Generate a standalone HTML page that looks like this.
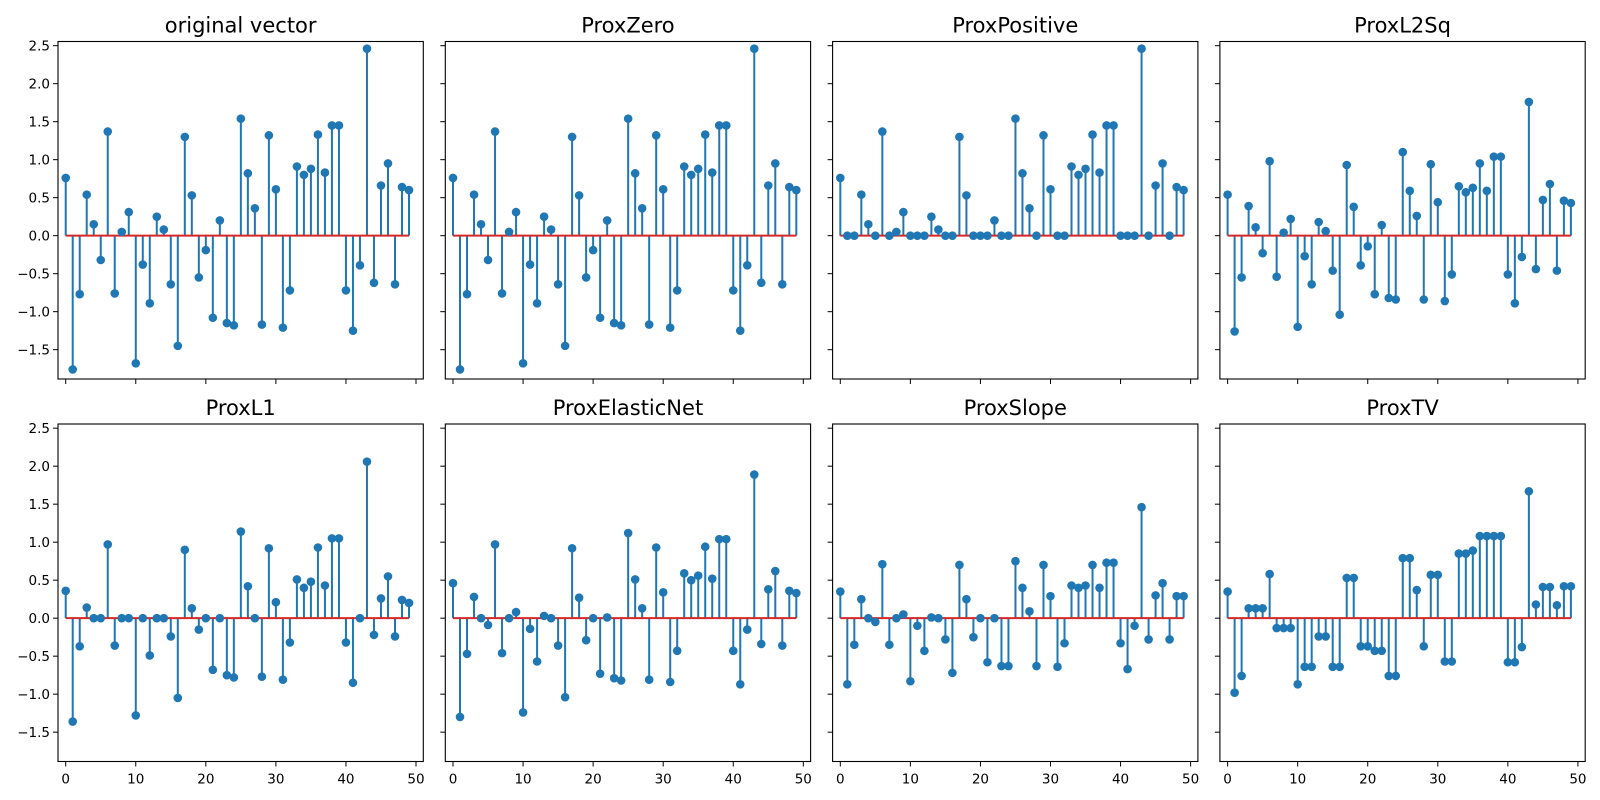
<!DOCTYPE html>
<html><head><meta charset="utf-8"><style>
html,body{margin:0;padding:0;background:#fff;}
svg{display:block;font-family:"DejaVu Sans","Liberation Sans",sans-serif;}
</style></head><body>
<svg id="fig" width="1600" height="800" viewBox="0 0 1600 800"></svg>
<script>
const titles = ["original vector","ProxZero","ProxPositive","ProxL2Sq","ProxL1","ProxElasticNet","ProxSlope","ProxTV"];
const original = [0.76,-1.76,-0.77,0.54,0.15,-0.32,1.37,-0.76,0.05,0.31,-1.68,-0.38,-0.89,0.25,0.08,-0.64,-1.45,1.30,0.53,-0.55,-0.19,-1.08,0.20,-1.15,-1.18,1.54,0.82,0.36,-1.17,1.32,0.61,-1.21,-0.72,0.91,0.80,0.88,1.33,0.83,1.45,1.45,-0.72,-1.25,-0.39,2.46,-0.62,0.66,0.95,-0.64,0.64,0.60];
const proxZero = [0.76,-1.76,-0.77,0.54,0.15,-0.32,1.37,-0.76,0.05,0.31,-1.68,-0.38,-0.89,0.25,0.08,-0.64,-1.45,1.30,0.53,-0.55,-0.19,-1.08,0.20,-1.15,-1.18,1.54,0.82,0.36,-1.17,1.32,0.61,-1.21,-0.72,0.91,0.80,0.88,1.33,0.83,1.45,1.45,-0.72,-1.25,-0.39,2.46,-0.62,0.66,0.95,-0.64,0.64,0.60];
const proxPositive = [0.76,0,0,0.54,0.15,0,1.37,0,0.05,0.31,0,0,0,0.25,0.08,0,0,1.30,0.53,0,0,0,0.20,0,0,1.54,0.82,0.36,0,1.32,0.61,0,0,0.91,0.80,0.88,1.33,0.83,1.45,1.45,0,0,0,2.46,0,0.66,0.95,0,0.64,0.60];
const proxL2Sq = [0.54,-1.26,-0.55,0.39,0.11,-0.23,0.98,-0.54,0.04,0.22,-1.20,-0.27,-0.64,0.18,0.06,-0.46,-1.04,0.93,0.38,-0.39,-0.14,-0.77,0.14,-0.82,-0.84,1.10,0.59,0.26,-0.84,0.94,0.44,-0.86,-0.51,0.65,0.57,0.63,0.95,0.59,1.04,1.04,-0.51,-0.89,-0.28,1.76,-0.44,0.47,0.68,-0.46,0.46,0.43];
const proxL1 = [0.36,-1.36,-0.37,0.14,0,0,0.97,-0.36,0,0,-1.28,0,-0.49,0,0,-0.24,-1.05,0.90,0.13,-0.15,0,-0.68,0,-0.75,-0.78,1.14,0.42,0,-0.77,0.92,0.21,-0.81,-0.32,0.51,0.40,0.48,0.93,0.43,1.05,1.05,-0.32,-0.85,0,2.06,-0.22,0.26,0.55,-0.24,0.24,0.20];
const proxElasticNet = [0.46,-1.30,-0.47,0.28,0,-0.09,0.97,-0.46,0,0.08,-1.24,-0.14,-0.57,0.03,0,-0.36,-1.04,0.92,0.27,-0.29,0,-0.73,0.01,-0.79,-0.82,1.12,0.51,0.13,-0.81,0.93,0.34,-0.84,-0.43,0.59,0.50,0.56,0.94,0.52,1.04,1.04,-0.43,-0.87,-0.15,1.89,-0.34,0.38,0.62,-0.36,0.36,0.33];
const proxSlope = [0.35,-0.87,-0.35,0.25,0,-0.05,0.71,-0.35,0,0.05,-0.83,-0.10,-0.43,0.01,0,-0.28,-0.72,0.70,0.25,-0.25,0,-0.58,0,-0.63,-0.63,0.75,0.40,0.09,-0.63,0.70,0.29,-0.64,-0.33,0.43,0.40,0.43,0.70,0.40,0.73,0.73,-0.33,-0.67,-0.10,1.46,-0.28,0.30,0.46,-0.28,0.29,0.29];
const proxTV = [0.35,-0.98,-0.76,0.13,0.13,0.13,0.58,-0.13,-0.13,-0.13,-0.87,-0.64,-0.64,-0.24,-0.24,-0.64,-0.64,0.53,0.53,-0.37,-0.37,-0.43,-0.43,-0.76,-0.76,0.79,0.79,0.37,-0.37,0.57,0.57,-0.57,-0.57,0.85,0.85,0.89,1.08,1.08,1.08,1.08,-0.58,-0.58,-0.38,1.67,0.18,0.41,0.41,0.17,0.42,0.42];
const yTicks = [-1.5,-1.0,-0.5,0.0,0.5,1.0,1.5,2.0,2.5];
const xTicks = [0,10,20,30,40,50];

const series = [original,proxZero,proxPositive,proxL2Sq,proxL1,proxElasticNet,proxSlope,proxTV];
const NS = "http://www.w3.org/2000/svg";
const fig = document.getElementById('fig');
const colLeft = [58,445.3,832.6,1219.9], W = 365.3;
const rowTop = [41.5,424], H = 337.5;
const XMIN = -1.1, XMAX = 51.04, YMIN = -1.886, YMAX = 2.555;
function mk(tag, attrs, parent){const e=document.createElementNS(NS,tag);for(const k in attrs)e.setAttribute(k,attrs[k]);parent.appendChild(e);return e;}

series.forEach((vals, k) => {
  const r = Math.floor(k/4), c = k%4;
  const L = colLeft[c], T = rowTop[r];
  const sx = v => L + (v - XMIN) / (XMAX - XMIN) * W;
  const sy = v => T + (YMAX - v) / (YMAX - YMIN) * H;
  const g = mk('g', {}, fig);
  
  
  const t = mk('text', {x: L + W/2, y: T - 9, 'text-anchor':'middle', 'font-size':'21', fill:'#000'}, g);
  t.textContent = titles[k];
  
  
  // stems
  vals.forEach((v, i) => {
    const ln = mk('line', {x1: sx(i), x2: sx(i), y1: sy(0), y2: sy(v), stroke:'#1f77b4', 'stroke-width':'2'}, g);
    
    
  });
  const base = mk('line', {x1: sx(0), x2: sx(vals.length-1), y1: sy(0), y2: sy(0), stroke:'#d62728', 'stroke-width':'2'}, g);
  
  
  vals.forEach((v, i) => {
    const m = mk('circle', {cx: sx(i), cy: sy(v), r: 4.3, fill:'#1f77b4'}, g);
    
    
  });
  const frame = mk('rect', {x: L, y: T, width: W, height: H, fill:'none', stroke:'#000', 'stroke-width':'1.1'}, g);
  
  
  yTicks.forEach(v => {
    const y = sy(v);
    const tk = mk('line', {x1: L-5, x2: L, y1: y, y2: y, stroke:'#000', 'stroke-width':'1'}, g);
    
    
    if (c === 0) {
      const lb = mk('text', {x: L-8, y: y+5, 'text-anchor':'end', 'font-size':'13.5', fill:'#000'}, g);
      lb.textContent = v.toFixed(1).replace('-', '\u2212');
      
      
    }
  });
  xTicks.forEach(v => {
    const x = sx(v);
    const tk = mk('line', {x1: x, x2: x, y1: T+H, y2: T+H+5, stroke:'#000', 'stroke-width':'1'}, g);
    
    
    if (r === 1) {
      const lb = mk('text', {x: x, y: T+H+22, 'text-anchor':'middle', 'font-size':'13.5', fill:'#000'}, g);
      lb.textContent = String(v);
      
      
    }
  });
});
</script>
</body></html>
